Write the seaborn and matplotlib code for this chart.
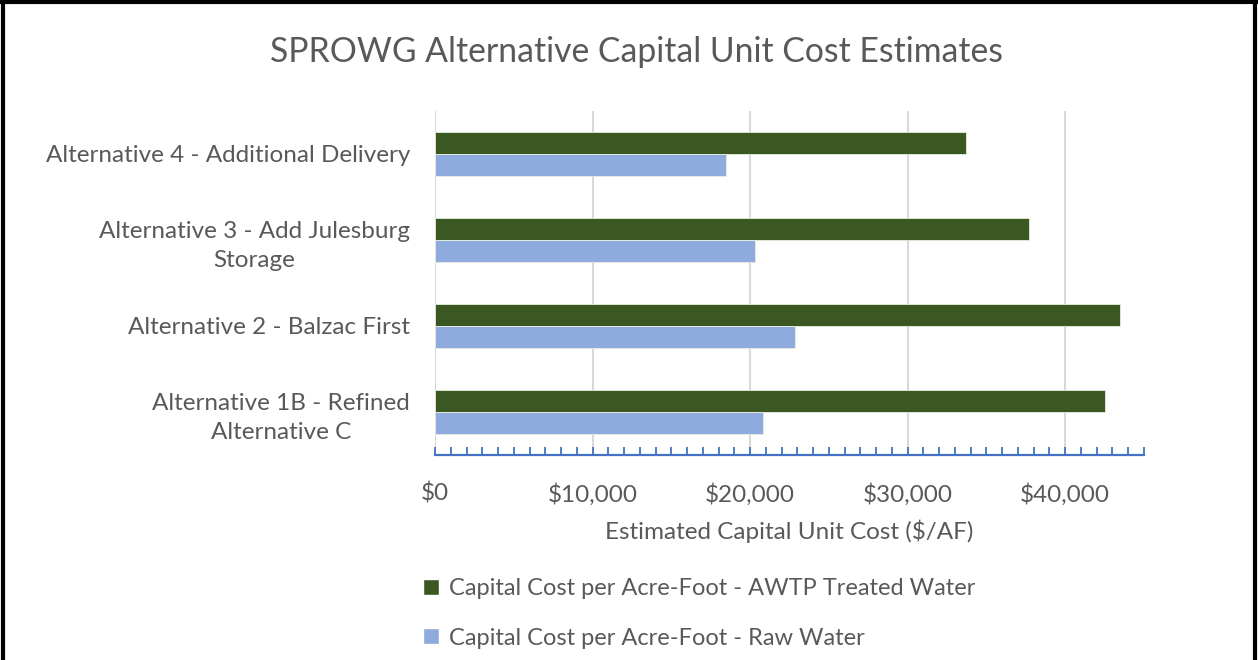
import pandas as pd
import matplotlib.pyplot as plt
import matplotlib.ticker as ticker
from matplotlib.lines import Line2D
from matplotlib.patches import Patch
import seaborn as sns

# chart data
categories = ["Alternative 4 - Additional Delivery",
              "Alternative 3 - Add Julesburg\nStorage",
              "Alternative 2 - Balzac First",
              "Alternative 1B - Refined\nAlternative C"]
series_names = ["Capital Cost per Acre-Foot - AWTP Treated Water",
                "Capital Cost per Acre-Foot - Raw Water"]
treated_cost = [33700, 37700, 43500, 42500]
raw_cost = [18450, 20300, 22850, 20800]
x_ticks = [0, 10000, 20000, 30000, 40000]

GREEN = "#3B5823"
BLUE = "#8FAADC"
TEXT = "#595959"

df = pd.DataFrame({
    "Alternative": categories * 2,
    "Series": [series_names[0]] * 4 + [series_names[1]] * 4,
    "Cost": treated_cost + raw_cost,
})

sns.set_style("white")
plt.rcParams["font.family"] = ["Lato", "DejaVu Sans"]
plt.rcParams["text.color"] = TEXT

fig = plt.figure(figsize=(12.58, 6.6), dpi=100)
ax = fig.add_axes([435 / 1258, 1 - 455 / 660, (1144 - 435) / 1258, (455 - 111) / 660])

sns.barplot(data=df, x="Cost", y="Alternative", hue="Series", order=categories,
            hue_order=series_names, palette=[GREEN, BLUE], saturation=1, orient="h",
            width=0.52, edgecolor="#E8EEE0", linewidth=0.6, ax=ax, legend=False)

ax.set_xlim(0, 45000)
ax.set_xticks(x_ticks)
ax.xaxis.set_minor_locator(ticker.MultipleLocator(1000))
ax.xaxis.set_major_formatter(ticker.FuncFormatter(lambda v, p: "${:,.0f}".format(v)))
ax.grid(axis="x", which="major", color="#D9D9D9", linewidth=1.5)
ax.set_axisbelow(True)

for s in ["top", "right", "left"]:
    ax.spines[s].set_visible(False)
ax.spines["bottom"].set_color("#4472C4")
ax.spines["bottom"].set_linewidth(1.6)

ax.tick_params(axis="x", which="both", bottom=True, direction="in", color="#4472C4",
               width=1.3, length=6, labelsize=17.5, labelcolor=TEXT, pad=20)
ax.tick_params(axis="y", length=0, labelsize=17.5, labelcolor=TEXT, pad=18)
for lbl in ax.get_yticklabels():
    lbl.set_multialignment("center")
    lbl.set_linespacing(1.45)

ax.set_ylabel("")
ax.set_xlabel("Estimated Capital Unit Cost ($/AF)", fontsize=17.5, color=TEXT, labelpad=10)

fig.text(636 / 1258, 1 - 52 / 660, "SPROWG Alternative Capital Unit Cost Estimates",
         ha="center", va="center", fontsize=24.3, color=TEXT)

handles = [Patch(facecolor=GREEN), Patch(facecolor=BLUE)]
fig.legend(handles, series_names, loc="upper left",
           bbox_to_anchor=(402 / 1258, 1 - 557 / 660), frameon=False, fontsize=17,
           handlelength=0.65, handleheight=0.65, handletextpad=0.45, labelspacing=1.2,
           labelcolor=TEXT)

# black frame around the picture
frame = dict(color="black", linewidth=3, transform=fig.transFigure)
fig.add_artist(Line2D([0.002, 0.002], [0, 1], **frame))
fig.add_artist(Line2D([0, 1], [0.997, 0.997], **frame))
fig.add_artist(Line2D([0.998, 0.998], [0, 1], **frame))

fig.savefig("out.png", dpi=100)
